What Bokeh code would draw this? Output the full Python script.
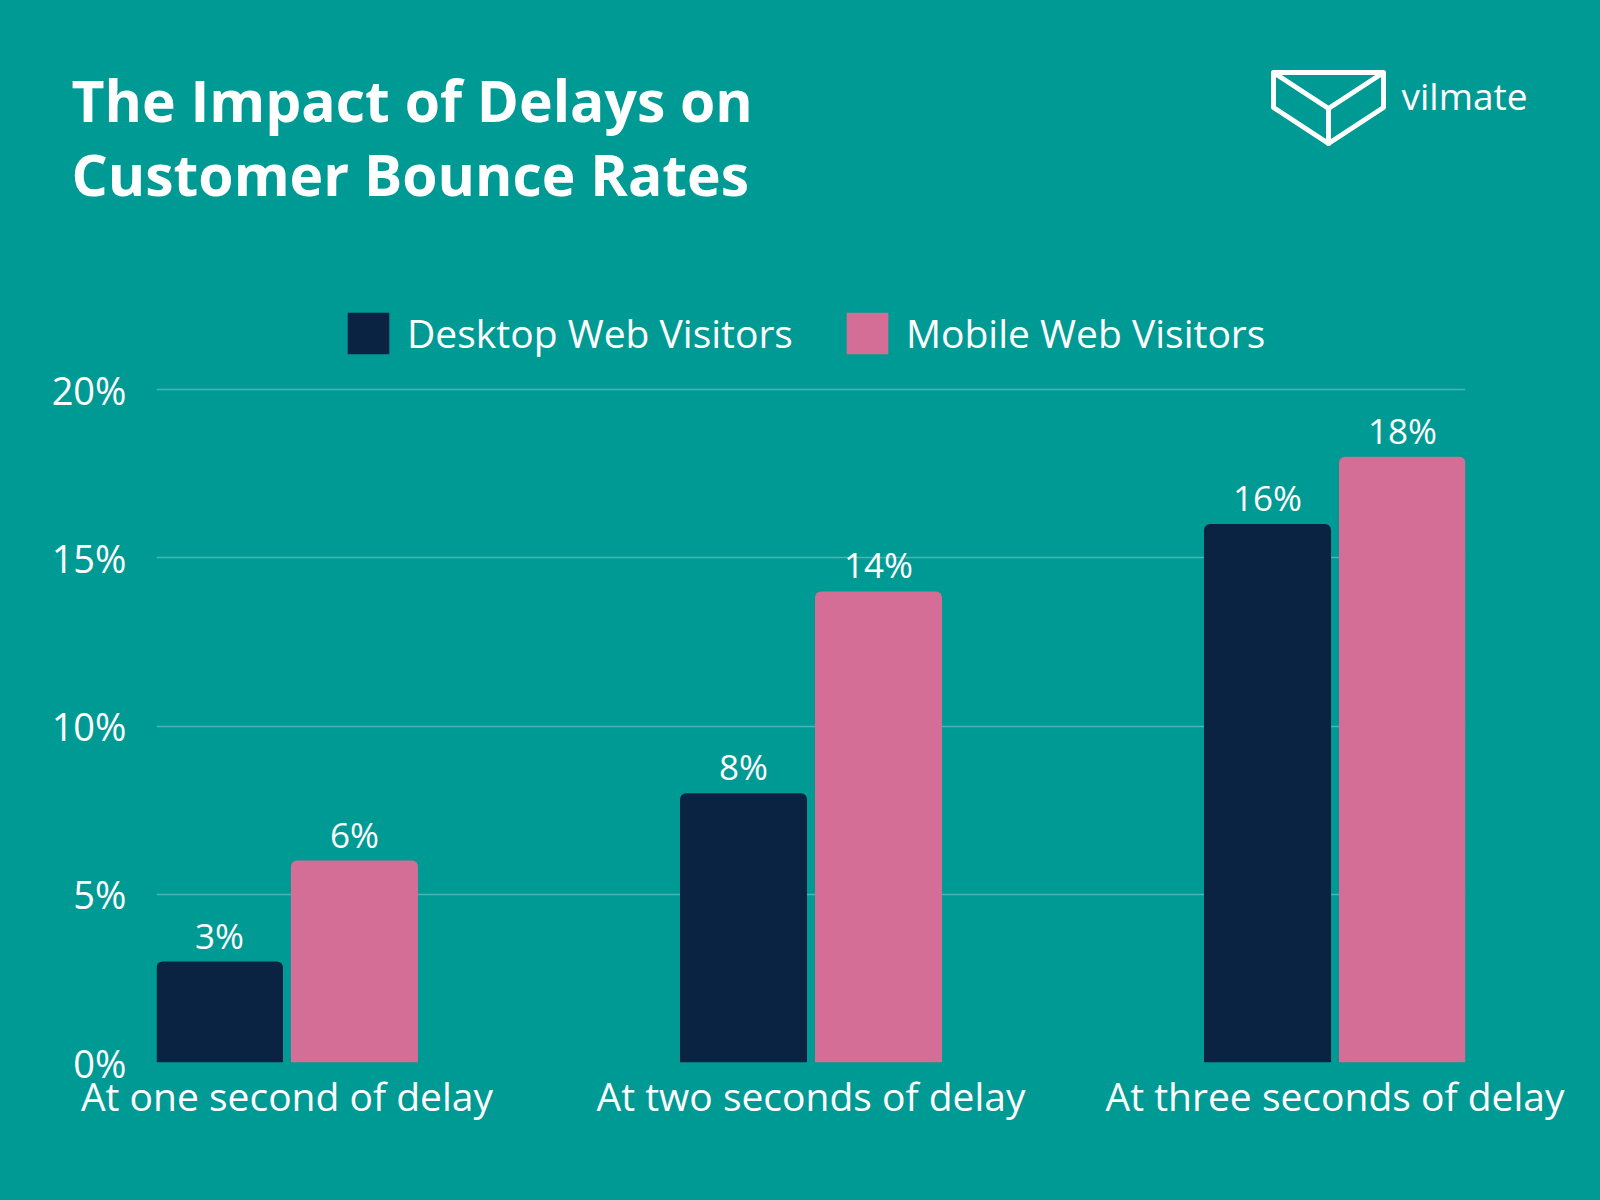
from bokeh.plotting import figure
from bokeh.models import Range1d, FixedTicker, Legend, LegendItem, ColumnDataSource
from bokeh.layouts import column
from bokeh.transform import dodge
from bokeh.core.properties import value
from bokeh.embed import file_html
from bokeh.resources import INLINE

# ---------------- data ----------------
categories = ["At one second of delay", "At two seconds of delay", "At three seconds of delay"]
desktop = [3, 8, 16]
mobile = [6, 14, 18]
y_ticks = [0, 5, 10, 15, 20]
y_tick_labels = ["0%", "5%", "10%", "15%", "20%"]
series_names = ["Desktop Web Visitors", "Mobile Web Visitors"]
title_lines = ["The Impact of Delays on", "Customer Bounce Rates"]
brand = "vilmate"

BG = "#009a95"
NAVY = "#0b2343"
PINK = "#d46e96"
GRID = "#45b8b2"
WHITE = "#ffffff"
FONT = "Open Sans"

W = 1600
HEADER_H = 280
CHART_H = 920
FL, FR = 156, 1465                    # frame left / right (px)
FB = 1062 - HEADER_H                  # frame bottom inside chart figure
X0, X1 = -0.249, 2.249
PX_PER_Y = (1062 - 389) / 20.0
Y1 = FB / PX_PER_Y

# ---------------- header (title + logo), 1 data unit = 1 px ----------------
header = figure(width=W, height=HEADER_H, output_backend="svg", toolbar_location=None,
                x_range=Range1d(0, W), y_range=Range1d(HEADER_H, 0),
                x_axis_location=None, y_axis_location=None, min_border=0,
                background_fill_color=BG, border_fill_color=BG, outline_line_color=None)
header.grid.visible = False
header.frame_align = False

header.text(x=[71, 71], y=[99, 173], text=title_lines, text_font=value(FONT),
            text_font_style="bold", text_font_size="57px", text_color=WHITE,
            text_baseline="alphabetic", text_align="left")

logo_xs = [[1273, 1383, 1383, 1328, 1273, 1273], [1276, 1328, 1380], [1328, 1328]]
logo_ys = [[72, 72, 107, 143, 107, 72], [74, 108, 74], [108, 143]]
header.multi_line(xs=logo_xs, ys=logo_ys, line_color=WHITE, line_width=5,
                  line_join="round", line_cap="round")
header.text(x=[1401], y=[95], text=[brand], text_font=value(FONT),
            text_font_size="37px", text_color=WHITE, text_baseline="alphabetic")

# ---------------- chart ----------------
xs = list(range(len(categories)))
LAB_GAP = 26.5 / PX_PER_Y
src = ColumnDataSource(dict(x=xs, desktop=desktop, mobile=mobile,
                            dlab=[f"{v}%" for v in desktop],
                            mlab=[f"{v}%" for v in mobile],
                            dy=[v + LAB_GAP for v in desktop],
                            my=[v + LAB_GAP for v in mobile]))

p = figure(width=W, height=CHART_H, output_backend="svg", toolbar_location=None,
           x_range=Range1d(X0, X1), y_range=Range1d(0, Y1),
           min_border_left=FL, min_border_right=W - FR, min_border_top=0,
           min_border_bottom=CHART_H - FB,
           background_fill_color=BG, border_fill_color=BG, outline_line_color=None)
p.frame_align = False

BW = 0.2424
OFF = 0.1288
RAD = dict(top_left=6, top_right=6, bottom_right=0, bottom_left=0)
r1 = p.vbar(x=dodge("x", -OFF, range=p.x_range), top="desktop", width=BW, source=src,
            fill_color=NAVY, line_color=None, border_radius=RAD)
r2 = p.vbar(x=dodge("x", OFF, range=p.x_range), top="mobile", width=BW, source=src,
            fill_color=PINK, line_color=None, border_radius=RAD)

p.text(x=dodge("x", -OFF, range=p.x_range), y="dy", text="dlab", source=src,
       text_font=value(FONT), text_font_size="35px", text_color=WHITE,
       text_align="center", text_baseline="alphabetic")
p.text(x=dodge("x", OFF, range=p.x_range), y="my", text="mlab", source=src,
       text_font=value(FONT), text_font_size="35px", text_color=WHITE,
       text_align="center", text_baseline="alphabetic")

p.yaxis.ticker = FixedTicker(ticks=y_ticks)
p.yaxis.major_label_overrides = {t: l for t, l in zip(y_ticks, y_tick_labels)}
p.yaxis.axis_line_color = None
p.yaxis.major_tick_line_color = None
p.yaxis.minor_tick_line_color = None
p.yaxis.major_label_standoff = 24
p.yaxis.major_label_text_font = FONT
p.yaxis.major_label_text_font_size = "38px"
p.yaxis.major_label_text_color = WHITE

p.xaxis.ticker = FixedTicker(ticks=xs)
p.xaxis.major_label_overrides = {i: c for i, c in zip(xs, categories)}
p.xaxis.axis_line_color = None
p.xaxis.major_tick_line_color = None
p.xaxis.minor_tick_line_color = None
p.xaxis.major_label_standoff = 0
p.xaxis.major_label_text_font = FONT
p.xaxis.major_label_text_font_size = "39px"
p.xaxis.major_label_text_color = WHITE

p.xgrid.visible = False
p.ygrid.ticker = FixedTicker(ticks=y_ticks)
p.ygrid.grid_line_color = GRID
p.ygrid.grid_line_width = 1.5

legend = Legend(items=[LegendItem(label=series_names[0], renderers=[r1]),
                       LegendItem(label=series_names[1], renderers=[r2])],
                orientation="horizontal", location=(186, 703),
                margin=0, padding=0, spacing=48, label_standoff=13,
                glyph_width=52, glyph_height=52,
                label_text_font=FONT, label_text_font_size="39px", label_text_color=WHITE,
                background_fill_alpha=0, border_line_alpha=0)
p.add_layout(legend)

layout = column(header, p, spacing=0)
html = file_html(layout, INLINE)
html = html.replace("<head>", "<head><style>body{background:%s;}</style>" % BG, 1)
open("out.html", "w").write(html)
